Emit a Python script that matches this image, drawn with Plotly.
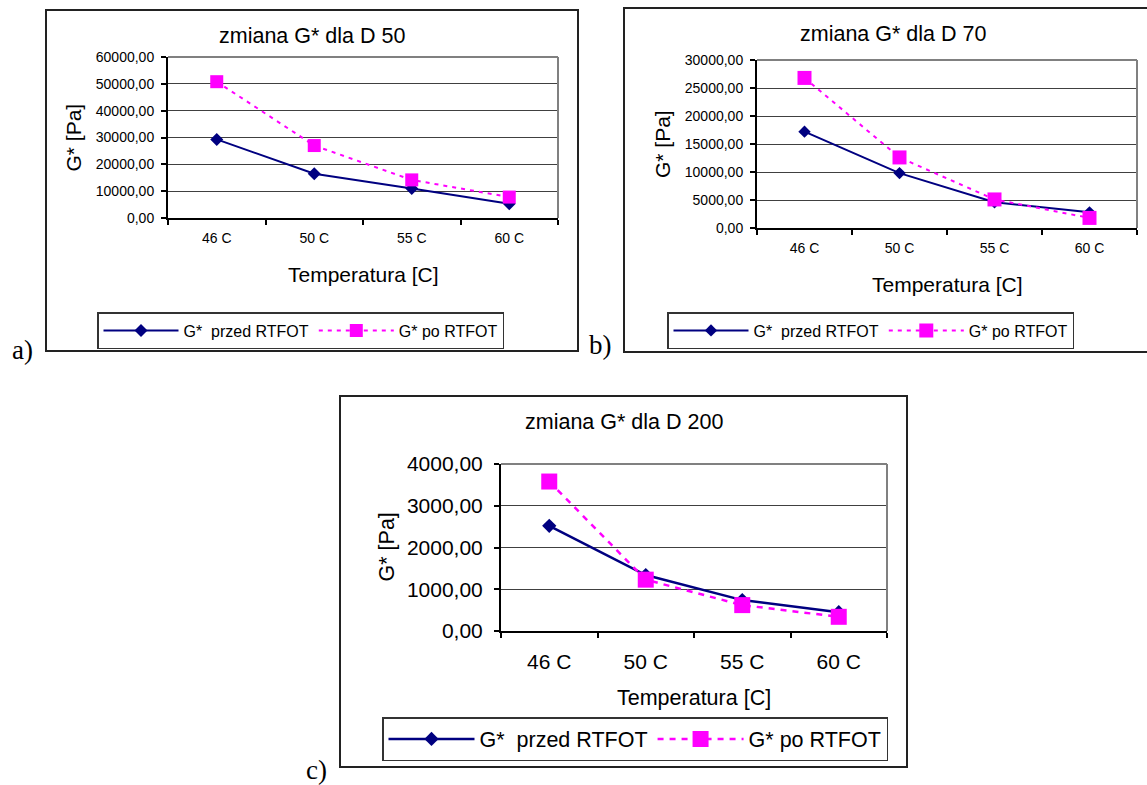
import plotly.graph_objects as go

# Figure canvas size (px)
W, H = 1147, 785

# Test temperatures (categories) and G* values [Pa]
temps = ["46 C", "50 C", "55 C", "60 C"]

d50_przed = [29300, 16500, 11000, 5300]
d50_po = [50800, 27000, 14200, 7800]

d70_przed = [17200, 9800, 4600, 2800]
d70_po = [26800, 12600, 5100, 1800]

d200_przed = [2520, 1340, 740, 450]
d200_po = [3580, 1230, 620, 340]

name_przed = "G*  przed RTFOT"
name_po = "G* po RTFOT"

NAVY = "#000080"
MAGENTA = "#FF00FF"
FONT = "Liberation Sans, Arial, sans-serif"
SERIF = "Liberation Serif, Times New Roman, serif"


def fx(p):
    return p / W


def fy(p):
    return 1 - p / H


# Panel geometry in pixels: frame box, plot box, font sizes, marker sizes
panels = [
    dict(key="", frame=(46, 10, 578, 351), plot=(168, 57, 558, 218),
         ymax=60000, dtick=10000, przed=d50_przed, po=d50_po,
         title="zmiana G* dla D 50", tfs=21.5, kfs=14, afs=21, lfs=16,
         ytitle_x=73, xtick_gap=6, ytick_gap=4, xtitle_y=275,
         legend=(97, 312), dsize=10, ssize=13, lw=2, dash="4px,5px",
         itemw=75),
    dict(key="2", frame=(624, 8, 1165, 352), plot=(757, 60, 1137, 228),
         ymax=30000, dtick=5000, przed=d70_przed, po=d70_po,
         title="zmiana G* dla D 70", tfs=21.5, kfs=14, afs=21, lfs=16,
         ytitle_x=663, xtick_gap=6, ytick_gap=4, xtitle_y=285,
         legend=(667, 312), dsize=9.5, ssize=14, lw=2, dash="4px,5px",
         itemw=75),
    dict(key="3", frame=(340, 396, 907, 767), plot=(501, 464, 887, 631),
         ymax=4000, dtick=1000, przed=d200_przed, po=d200_po,
         title="zmiana G* dla D 200", tfs=21.5, kfs=21, afs=21.5, lfs=21.5,
         ytitle_x=386, xtick_gap=11, ytick_gap=7, xtitle_y=698,
         legend=(382, 717), dsize=11, ssize=16, lw=2.5, dash="6px,6px",
         itemw=86),
]

fig = go.Figure()
shapes = []
annotations = []
layout = {}

for i, p in enumerate(panels):
    k = p["key"]
    xa, ya = "x" + k, "y" + k
    leg = "legend" + k
    x0, y0, x1, y1 = p["plot"]

    fig.add_trace(go.Scatter(
        x=temps, y=p["przed"], name=name_przed, xaxis=xa, yaxis=ya, legend=leg,
        mode="lines+markers",
        line=dict(color=NAVY, width=p["lw"]),
        marker=dict(symbol="diamond", size=p["dsize"], color=NAVY),
    ))
    fig.add_trace(go.Scatter(
        x=temps, y=p["po"], name=name_po, xaxis=xa, yaxis=ya, legend=leg,
        mode="lines+markers",
        line=dict(color=MAGENTA, width=p["lw"], dash=p["dash"]),
        marker=dict(symbol="square", size=p["ssize"], color=MAGENTA),
    ))

    layout["xaxis" + k] = dict(
        domain=[fx(x0), fx(x1)], anchor=ya, type="category",
        range=[-0.5, 3.5], showgrid=False, zeroline=False,
        showline=True, linecolor="#000000", linewidth=2,
        ticks="outside", tickson="boundaries", ticklen=5, tickwidth=1.5,
        tickcolor="#000000", ticklabelstandoff=int(p["xtick_gap"]),
        tickfont=dict(family=FONT, size=p["kfs"], color="#000000"),
        fixedrange=True,
    )
    layout["yaxis" + k] = dict(
        domain=[fy(y1), fy(y0)], anchor=xa, range=[0, p["ymax"]],
        dtick=p["dtick"], tick0=0, tickformat=".2f",
        showgrid=True, gridcolor="#404040", gridwidth=1, zeroline=False,
        showline=True, linecolor="#000000", linewidth=2,
        ticks="outside", ticklen=5, tickwidth=1.5, tickcolor="#000000",
        tickfont=dict(family=FONT, size=p["kfs"], color="#000000"),
        ticklabelstandoff=int(p["ytick_gap"]),
        fixedrange=True,
    )

    # Plot-area border (top and right edges)
    shapes.append(dict(type="line", xref=xa + " domain", yref=ya + " domain",
                       x0=0, x1=1, y0=1, y1=1, line=dict(color="#808080", width=2),
                       layer="above"))
    shapes.append(dict(type="line", xref=xa + " domain", yref=ya + " domain",
                       x0=1, x1=1, y0=0, y1=1, line=dict(color="#808080", width=2),
                       layer="above"))

    # Chart frame
    fx0, fy0, fx1, fy1 = p["frame"]
    shapes.append(dict(type="rect", xref="paper", yref="paper",
                       x0=fx(fx0), x1=fx(fx1), y0=fy(fy1), y1=fy(fy0),
                       line=dict(color="#222222", width=2), layer="below"))

    # Chart title
    annotations.append(dict(text=p["title"], xref="paper", yref="paper",
                            x=fx((fx0 + min(fx1, 1161)) / 2), y=fy(fy0 + 26),
                            xanchor="center", yanchor="middle", showarrow=False,
                            font=dict(family=FONT, size=p["tfs"], color="#000000")))
    # Axis titles
    annotations.append(dict(text="Temperatura [C]", xref="paper", yref="paper",
                            x=fx((x0 + x1) / 2), y=fy(p["xtitle_y"]),
                            xanchor="center", yanchor="middle", showarrow=False,
                            font=dict(family=FONT, size=p["afs"], color="#000000")))
    annotations.append(dict(text="G* [Pa]", xref="paper", yref="paper",
                            x=fx(p["ytitle_x"]), y=fy((y0 + y1) / 2), textangle=-90,
                            xanchor="center", yanchor="middle", showarrow=False,
                            font=dict(family=FONT, size=p["afs"], color="#000000")))

    lx, ly = p["legend"]
    layout[leg] = dict(
        x=fx(lx), y=fy(ly), xanchor="left", yanchor="top",
        orientation="h", bgcolor="#FFFFFF", bordercolor="#333333", borderwidth=1.5,
        font=dict(family=FONT, size=p["lfs"], color="#000000"),
        itemwidth=p["itemw"],
        itemclick=False, itemdoubleclick=False,
    )

# Panel letters
for txt, x, y in [("a)", 22, 350), ("b)", 600, 345), ("c)", 316, 770)]:
    annotations.append(dict(text=txt, xref="paper", yref="paper", x=fx(x), y=fy(y),
                            xanchor="center", yanchor="middle", showarrow=False,
                            font=dict(family=SERIF, size=27, color="#000000")))

fig.update_layout(
    width=W, height=H,
    margin=dict(l=0, r=0, t=0, b=0, autoexpand=False),
    paper_bgcolor="#FFFFFF", plot_bgcolor="#FFFFFF",
    separators=", ",
    shapes=shapes, annotations=annotations,
    showlegend=True,
    **layout,
)

fig.write_html("out.html", config={"displayModeBar": False})
